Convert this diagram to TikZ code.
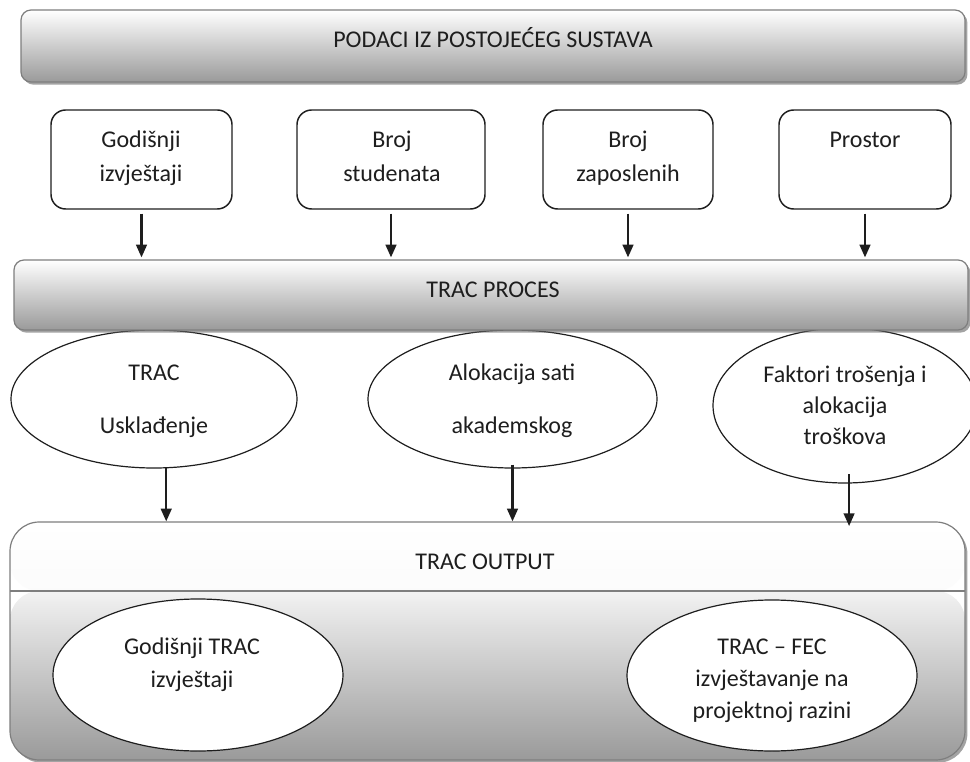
\documentclass[tikz,border=0pt]{standalone}
\usepackage{fontspec}
\setmainfont{Carlito}
\usetikzlibrary{arrows.meta,shadows,shapes.geometric}

\definecolor{barborder}{HTML}{7E7E7E}
\definecolor{bardark}{HTML}{9A9A9A}
\definecolor{ink}{HTML}{1E1E1E}

\tikzset{
  bar/.style={draw=barborder, line width=0.9pt, rounded corners=7.5pt,
    top color=white, bottom color=bardark, inner sep=0pt,
    drop shadow={shadow xshift=1.8pt, shadow yshift=-2pt, fill=black!60, opacity=0.6}},
  srcbox/.style={draw=ink, line width=1.1pt, rounded corners=11pt,
    fill=white, inner sep=0pt},
  oval/.style={ellipse, draw=ink, line width=0.9pt, fill=white, inner sep=0pt},
  lbl/.style={anchor=base, text=ink, inner sep=0pt,
    font=\fontsize{18}{21.6}\selectfont},
  arr/.style={-{Triangle[length=9.5pt,width=8pt]}, line width=1.6pt, draw=ink},
  outbox/.style={draw=barborder, line width=0.9pt, rounded corners=22pt,
    fill=white, inner sep=0pt,
    drop shadow={shadow xshift=1.8pt, shadow yshift=-2pt, fill=black!60, opacity=0.6},
    path picture={
      \shade[top color=white, bottom color=black!5]
        (path picture bounding box.north west) rectangle
        ([yshift=-51.75pt]path picture bounding box.north east);
      \shade[top color=black!5, bottom color=bardark]
        ([yshift=-51.75pt]path picture bounding box.north west) rectangle
        (path picture bounding box.south east);
      \draw[barborder, line width=0.8pt]
        ([yshift=-51.75pt]path picture bounding box.north west) --
        ([yshift=-51.75pt]path picture bounding box.north east);
    }},
}

\begin{document}
\begin{tikzpicture}[x=0.75pt, y=-0.75pt]
\useasboundingbox (0,0) rectangle (970,762);

% --- source data bar
\node[bar, minimum width=708pt, minimum height=54pt] (src) at (493,46) {};
\node[lbl] (srct) at (493,47.5) {PODACI IZ POSTOJEĆEG SUSTAVA};

% --- input boxes
\node[srcbox, minimum width=135.75pt, minimum height=74.25pt] (b1) at (141.5,159.5) {};
\node[lbl] (b1a) at (141,148) {Godišnji};
\node[lbl] (b1b) at (141,182) {izvještaji};

\node[srcbox, minimum width=141pt, minimum height=74.25pt] (b2) at (391,159.5) {};
\node[lbl] (b2a) at (392,148) {Broj};
\node[lbl] (b2b) at (392,182) {studenata};

\node[srcbox, minimum width=127.5pt, minimum height=74.25pt] (b3) at (628,159.5) {};
\node[lbl] (b3a) at (628,148) {Broj};
\node[lbl] (b3b) at (628,182) {zaposlenih};

\node[srcbox, minimum width=129pt, minimum height=74.25pt] (b4) at (865,159.5) {};
\node[lbl] (b4a) at (865,148) {Prostor};

% --- process ellipses (drawn before the process bar so it overlaps them)
\node[oval, minimum width=214.5pt, minimum height=103.5pt] (e1) at (154,399) {};
\node[lbl] (e1a) at (154,381) {TRAC};
\node[lbl] (e1b) at (154,434) {Usklađenje};

\node[oval, minimum width=216.75pt, minimum height=103.5pt] (e2) at (512.5,399) {};
\node[lbl] (e2a) at (512,381) {Alokacija sati};
\node[lbl] (e2b) at (512,434) {akademskog};

\node[oval, minimum width=198pt, minimum height=116.25pt] (e3) at (845,405.5) {};
\node[lbl] (e3a) at (845,383) {Faktori trošenja i};
\node[lbl] (e3b) at (845,414) {alokacija};
\node[lbl] (e3c) at (845,445) {troškova};

% --- process bar
\node[bar, minimum width=715.5pt, minimum height=52.5pt] (proc) at (491,295) {};
\node[lbl] (proct) at (493,297.5) {TRAC PROCES};

% --- output panel
\node[outbox, minimum width=716.25pt, minimum height=178.5pt] (out) at (487.5,641) {};
\node[lbl] (outt) at (485,569.5) {TRAC OUTPUT};

\node[oval, minimum width=217.5pt, minimum height=114pt] (o1) at (198,675) {};
\node[lbl] (o1a) at (192,654) {Godišnji TRAC};
\node[lbl] (o1b) at (192,687) {izvještaji};

\node[oval, minimum width=217.5pt, minimum height=113.25pt] (o2) at (772,675.5) {};
\node[lbl] (o2a) at (772,654) {TRAC – FEC};
\node[lbl] (o2b) at (772,686) {izvještavanje na};
\node[lbl] (o2c) at (772,718) {projektnoj razini};

% --- connectors: inputs into the process
\foreach \b in {b1,b2,b3,b4}
  \draw[arr, shorten <=3pt, shorten >=1.5pt] (\b.south) -- (\b.south |- proc.north);

% --- connectors: process steps into the output
\draw[arr] (e1.-80) -- (e1.-80 |- out.north);
\draw[arr, shorten <=-3pt] (e2.south) -- (e2.south |- out.north);
\draw[arr, shorten <=-7pt, shorten >=-3.5pt] (e3.-87) -- (e3.-87 |- out.north);
\end{tikzpicture}
\end{document}
